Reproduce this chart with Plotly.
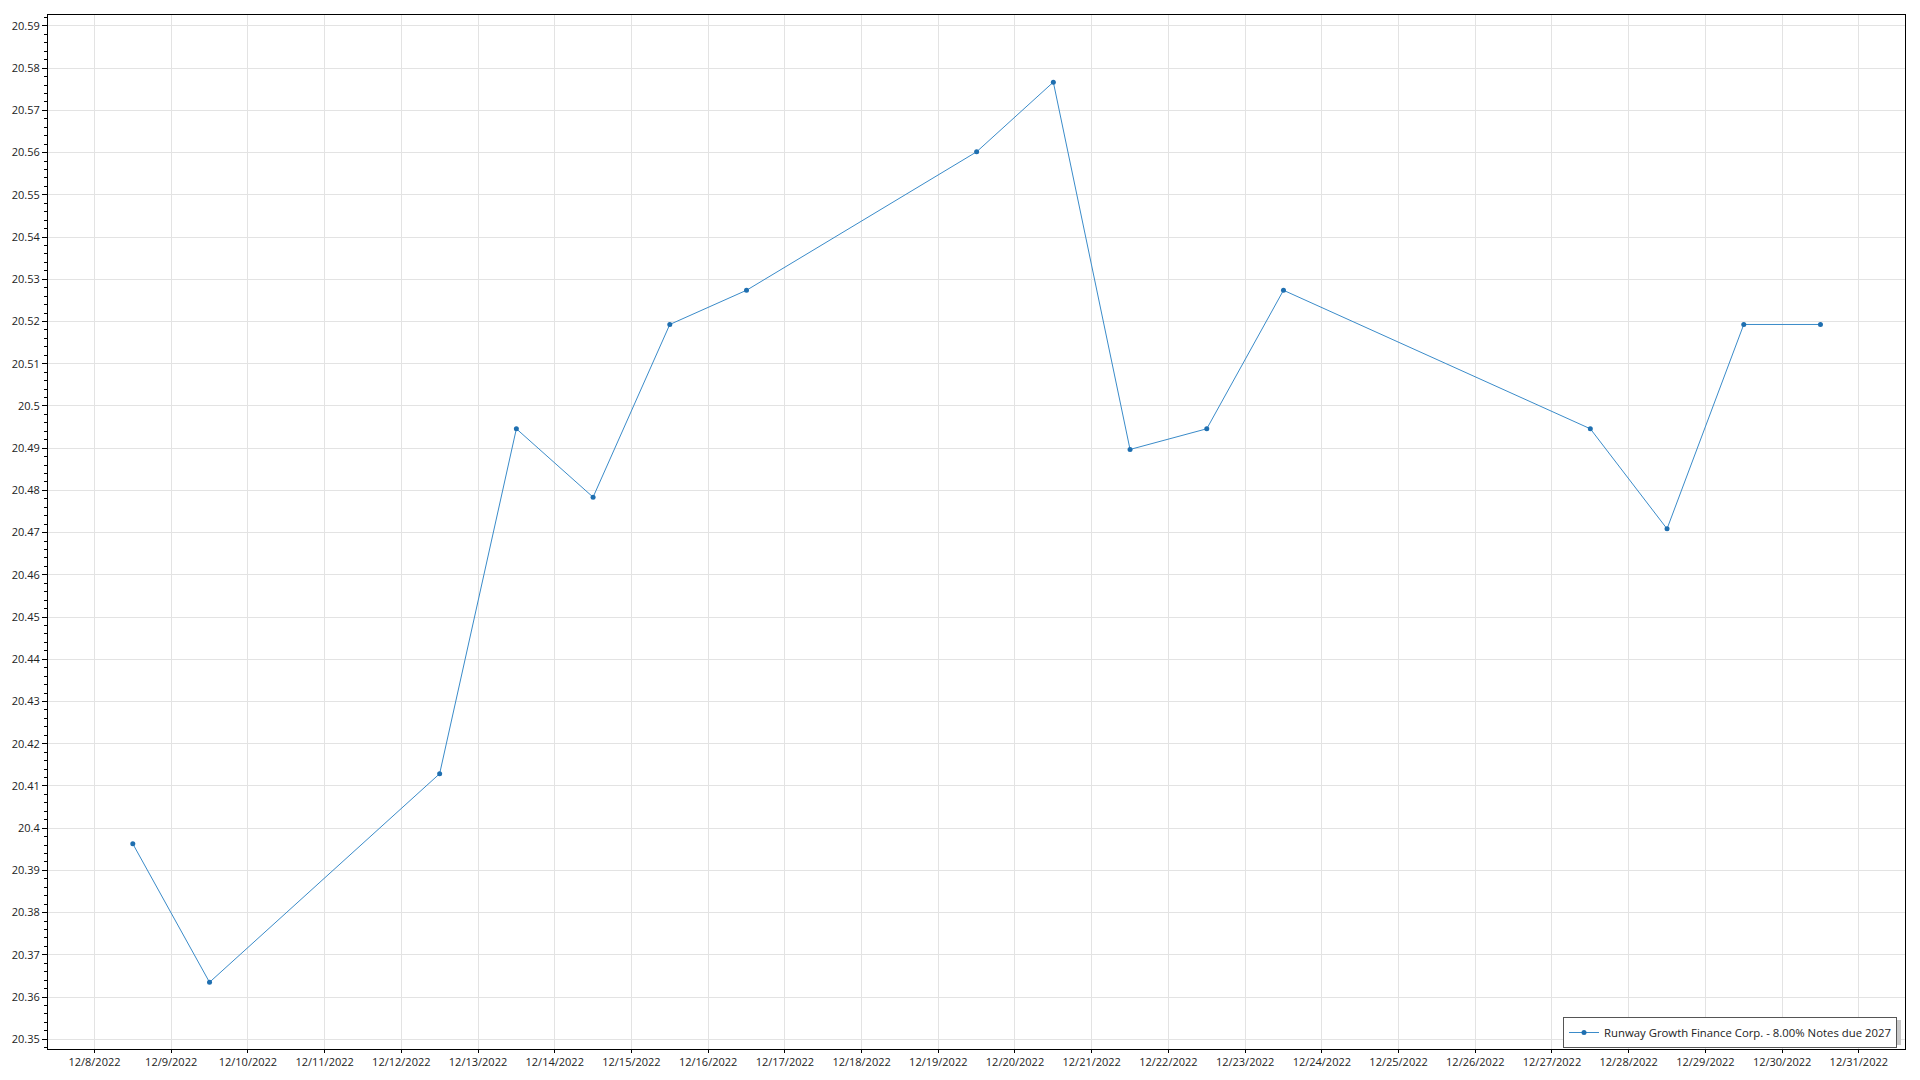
import plotly.graph_objects as go

dates = ["2022-12-08", "2022-12-09", "2022-12-12", "2022-12-13", "2022-12-14",
         "2022-12-15", "2022-12-16", "2022-12-19", "2022-12-20", "2022-12-21",
         "2022-12-22", "2022-12-23", "2022-12-27", "2022-12-28", "2022-12-29",
         "2022-12-30"]
prices = [20.3963, 20.3635, 20.4129, 20.4946, 20.4784,
          20.5193, 20.5274, 20.5602, 20.5767, 20.4897,
          20.4946, 20.5274, 20.4946, 20.4709, 20.5193,
          20.5193]
series_name = "Runway Growth Finance Corp. - 8.00% Notes due 2027"

x_vals = [d + " 12:00" for d in dates]

# page has an 8px body margin; compensate
OFF = 8
W, H = 1920 - OFF, 1080 - OFF
PL, PR, PT, PB = 48, 1905, 15, 1049  # plot area in page pixels
ml, mt = PL - OFF, PT - OFF
mr, mb = 1920 - PR, 1080 - PB
pw, ph = PR - PL, PB - PT


def px2paper_x(px):
    return (px - PL) / pw


def px2paper_y(py):
    return 1 - (py - PT) / ph


fig = go.Figure()
fig.add_trace(go.Scatter(
    x=x_vals, y=prices, mode="lines+markers", name=series_name,
    line=dict(color="#3a8bc9", width=1),
    marker=dict(color="#1f6fb0", size=5),
    showlegend=True,
))

# legend shadow
fig.add_shape(type="rect", xref="paper", yref="paper",
              x0=px2paper_x(1567), x1=px2paper_x(1901),
              y0=px2paper_y(1045), y1=px2paper_y(1020),
              fillcolor="#c8c8c8", line=dict(width=0), layer="above")

fig.update_layout(
    width=W, height=H,
    margin=dict(l=ml, r=mr, t=mt, b=mb, autoexpand=False),
    paper_bgcolor="white", plot_bgcolor="white",
    font=dict(family="Open Sans, Noto Sans, sans-serif", size=11, color="#222222"),
    showlegend=True,
    legend=dict(
        x=px2paper_x(1563), y=px2paper_y(1017), xanchor="left", yanchor="top",
        bgcolor="white", bordercolor="#555555", borderwidth=1,
        font=dict(size=11.35, color="#222222"),
        itemwidth=30, tracegroupgap=0,
    ),
    xaxis=dict(
        type="date",
        range=["2022-12-07 09:28", "2022-12-31 14:27"],
        dtick=86400000, tick0="2022-12-08",
        tickformat="%-m/%-d/%Y",
        showgrid=True, gridcolor="#e3e3e3", gridwidth=1,
        showline=True, linecolor="black", linewidth=1, mirror=True,
        ticks="outside", ticklen=3, tickcolor="black",
        zeroline=False,
    ),
    yaxis=dict(
        range=[20.3477, 20.5926],
        dtick=0.01, tick0=20.35,
        tickformat=".2~f",
        showgrid=True, gridcolor="#e3e3e3", gridwidth=1,
        showline=True, linecolor="black", linewidth=1, mirror=True,
        ticks="outside", ticklen=5, tickcolor="black",
        minor=dict(dtick=0.002, ticks="outside", ticklen=3, tickcolor="black", showgrid=False),
        zeroline=False,
    ),
)

fig.write_html("out.html")
